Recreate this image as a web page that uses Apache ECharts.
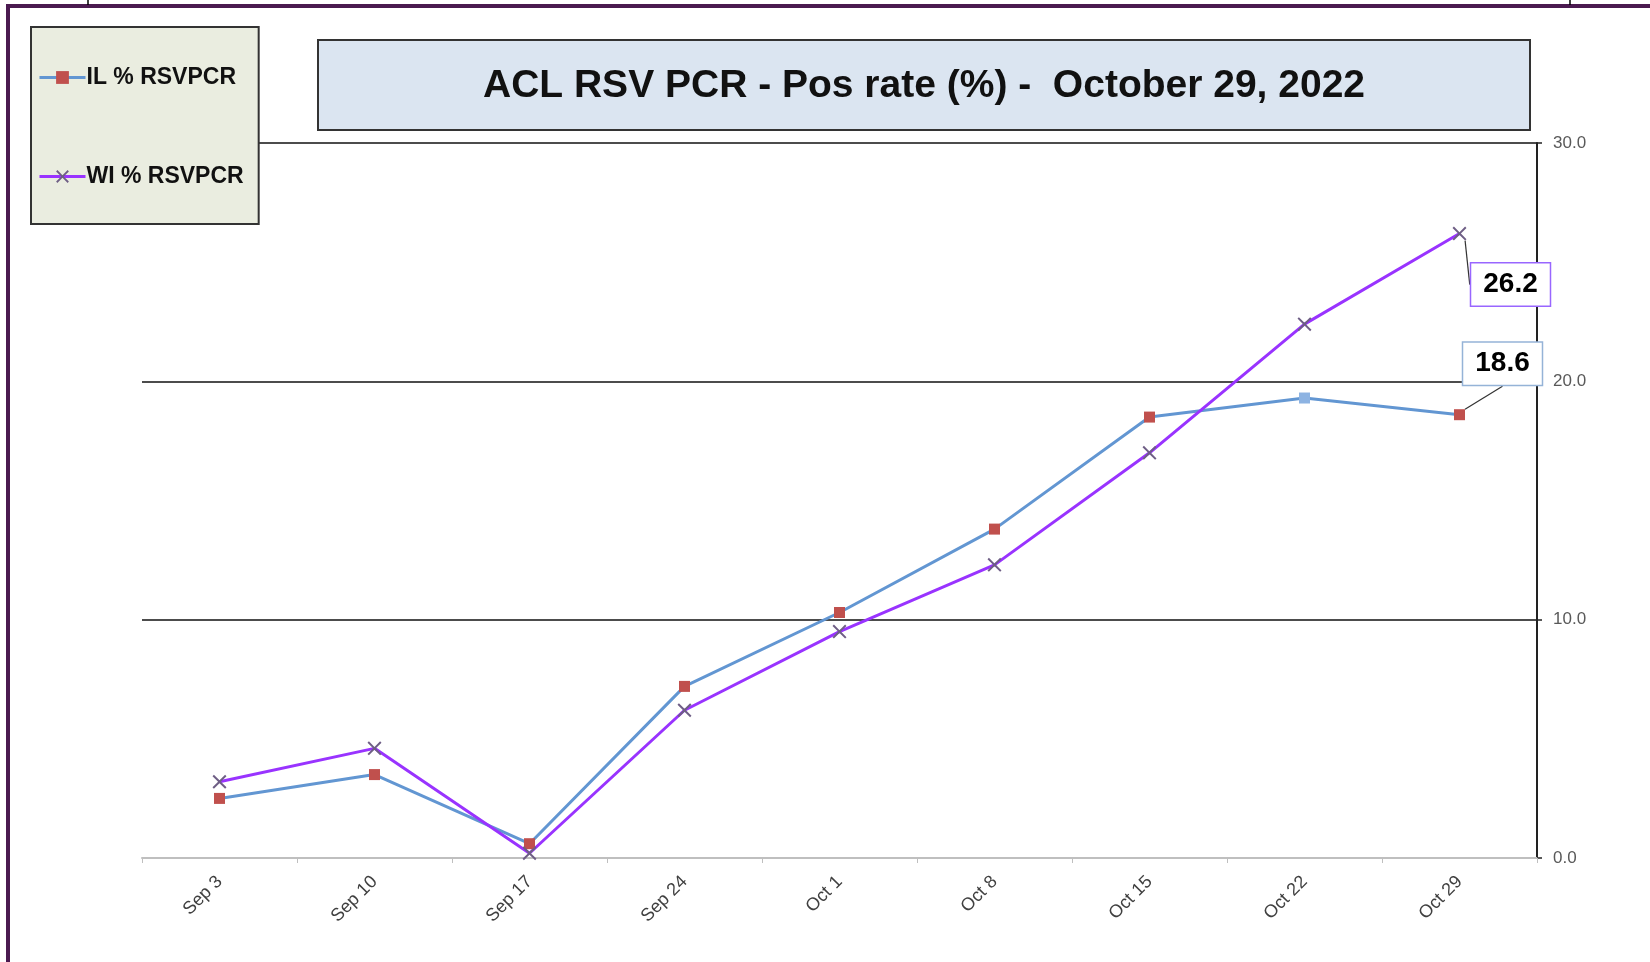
<!DOCTYPE html>
<html>
<head>
<meta charset="utf-8">
<script src="https://cdn.jsdelivr.net/npm/echarts@6/dist/echarts.min.js"></script>
<style>
  html, body { margin: 0; padding: 0; background: #fff; }
  #chart { width: 1650px; height: 962px; }
</style>
</head>
<body>
<div id="chart"></div>
<script>
// week labels
const weeks = ['Sep 3', 'Sep 10', 'Sep 17', 'Sep 24', 'Oct 1', 'Oct 8', 'Oct 15', 'Oct 22', 'Oct 29'];
// positivity rates (%)
const ilRate = [2.5, 3.5, 0.6, 7.2, 10.3, 13.8, 18.5, 19.3, 18.6];
const wiRate = [3.2, 4.6, 0.2, 6.2, 9.5, 12.3, 17.0, 22.4, 26.2];
const seriesNames = ['IL % RSVPCR', 'WI % RSVPCR'];
const titleText = 'ACL RSV PCR - Pos rate (%) -  October 29, 2022';

const xMark = 'path://M0,1 L1,0 L5,4 L9,0 L10,1 L6,5 L10,9 L9,10 L5,6 L1,10 L0,9 L4,5 Z';

const chart = echarts.init(document.getElementById('chart'));

// only the last point gets a boxed callout
const ilData = ilRate.map((v, i) => {
  if (i === 7) return { value: v, itemStyle: { color: '#8DB3E2' } };
  if (i === ilRate.length - 1) {
    return {
      value: v,
      label: {
        show: true, position: 'inside', formatter: '{c}',
        fontFamily: 'Liberation Sans, Arial', fontSize: 28, fontWeight: 'bold', color: '#000',
        backgroundColor: '#fff', borderColor: '#95B3D7', borderWidth: 1.5, padding: [8, 12, 6, 12]
      }
    };
  }
  return v;
});
const wiData = wiRate.map((v, i) => {
  if (i === wiRate.length - 1) {
    return {
      value: v,
      label: {
        show: true, position: 'inside', formatter: '{c}',
        fontFamily: 'Liberation Sans, Arial', fontSize: 28, fontWeight: 'bold', color: '#000',
        backgroundColor: '#fff', borderColor: '#9966FF', borderWidth: 1.5, padding: [8, 12, 6, 12]
      }
    };
  }
  return v;
});

let option = {
  animation: false,
  backgroundColor: '#fff',
  textStyle: { fontFamily: 'Liberation Sans, Arial' },
  graphic: [
    // outer purple frame
    { type: 'rect', shape: { x: 8, y: 6, width: 1700, height: 1000 },
      style: { fill: null, stroke: '#4B1A50', lineWidth: 4 }, z: 0 },
    { type: 'line', shape: { x1: 88, y1: 0, x2: 88, y2: 5 }, style: { stroke: '#000', lineWidth: 1.5 } },
    { type: 'line', shape: { x1: 1570, y1: 0, x2: 1570, y2: 5 }, style: { stroke: '#000', lineWidth: 1.5 } },
    // title box
    { type: 'rect', shape: { x: 318, y: 40, width: 1212, height: 90 },
      style: { fill: '#DBE5F1', stroke: '#333', lineWidth: 2 }, z: 10 },
    { type: 'text', x: 924, y: 86, z: 11,
      style: { text: titleText, align: 'center', verticalAlign: 'middle',
               font: 'bold 39px "Liberation Sans", Arial', fill: '#111' } }
  ],
  legend: {
    orient: 'vertical',
    left: 31, top: 27,
    data: seriesNames,
    backgroundColor: '#EAEDE0',
    borderColor: '#333',
    borderWidth: 2,
    borderRadius: 0,
    padding: [39, 15, 36, 7],
    itemGap: 76,
    itemWidth: 46,
    itemHeight: 16,
    lineStyle: { width: 3 },
    textStyle: { fontSize: 23, fontWeight: 'bold', color: '#111', padding: [0, 0, 0, -4] }
  },
  grid: { left: 142, right: 113, top: 143, bottom: 104, containLabel: false },
  xAxis: {
    type: 'category',
    data: weeks,
    boundaryGap: true,
    axisLine: { lineStyle: { color: '#BFBFBF', width: 2 } },
    axisTick: { show: true, length: 5, lineStyle: { color: '#BFBFBF' } },
    axisLabel: { rotate: 45, fontSize: 18, color: '#404040', margin: 21 },
    splitLine: { show: false }
  },
  yAxis: {
    type: 'value',
    position: 'right',
    min: 0, max: 30, interval: 10,
    axisLine: { show: true, lineStyle: { color: '#222', width: 2 } },
    axisTick: { show: true, length: 5, lineStyle: { color: '#222', width: 1.5 } },
    axisLabel: { fontSize: 17, color: '#595959', margin: 16, formatter: v => v.toFixed(1) },
    splitLine: { show: true, showMinLine: false, lineStyle: { color: '#111', width: 1.5 } }
  },
  series: [
    {
      name: seriesNames[0],
      type: 'line',
      data: ilData,
      symbol: 'rect',
      symbolSize: 11,
      lineStyle: { color: '#6296D2', width: 3 },
      itemStyle: { color: '#C0504D' },
      labelLine: { show: true, lineStyle: { color: '#333', width: 1.2 } },
      labelLayout: () => ({ dx: 43, dy: -51 })
    },
    {
      name: seriesNames[1],
      type: 'line',
      data: wiData,
      symbol: xMark,
      symbolSize: 14,
      lineStyle: { color: '#9933FF', width: 3 },
      itemStyle: { color: '#6E5E85' },
      labelLine: { show: true, lineStyle: { color: '#333', width: 1.2 } },
      labelLayout: () => ({ dx: 51, dy: 51 })
    }
  ]
};

option && chart.setOption(option);
</script>
</body>
</html>
